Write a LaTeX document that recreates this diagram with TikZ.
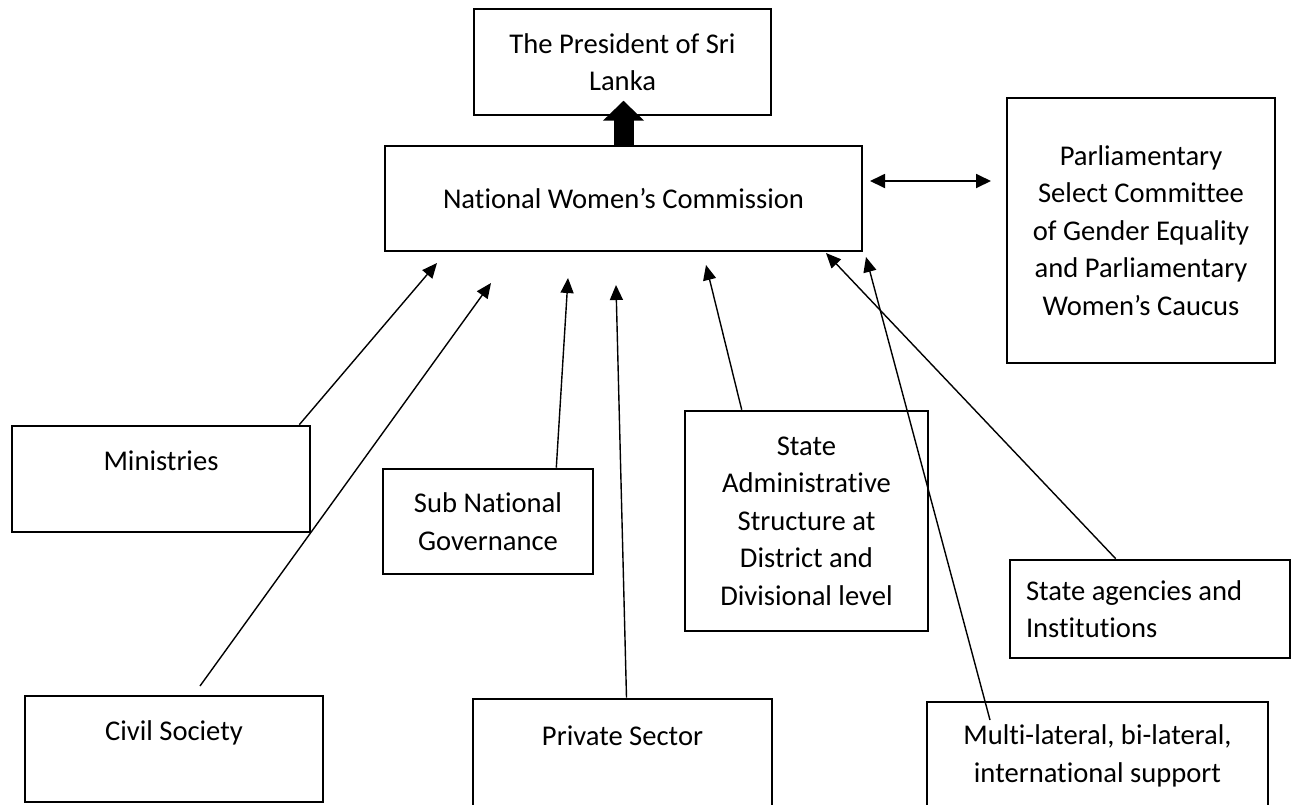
\documentclass[tikz,border=0pt]{standalone}
\usepackage{fontspec}
\setmainfont{Carlito}[Ligatures=NoCommon]
\usetikzlibrary{arrows.meta}

\tikzset{
  caja/.style={draw, line width=1.3pt, inner sep=0pt, align=center,
    font=\fontsize{14.3pt}{18.75pt}\selectfont},
  flecha/.style={-{Triangle[length=7.5pt,width=6.5pt]}, line width=0.7pt},
  dobleflecha/.style={{Triangle[length=7.5pt,width=7pt]}-{Triangle[length=7.5pt,width=7pt]}, line width=0.9pt},
  gruesa/.style={line width=10pt, -{Triangle[length=10pt,width=20pt]}}
}

\begin{document}
\begin{tikzpicture}[x=0.5pt, y=-0.5pt]
    \useasboundingbox (0,0) rectangle (1312,804);
    \clip (0,0) rectangle (1312,804);
    % Cajas de arriba
    \node[caja, minimum width=148.5pt, minimum height=53pt] (pres) at (622.5,62)
        {The President of Sri\\Lanka};
    \node[caja, minimum width=238.5pt, minimum height=52.5pt] (nwc) at (623.5,198.5)
        {National Women’s Commission};
    \node[caja, minimum width=134pt, minimum height=132.5pt] (psc) at (1141,230.5)
        {Parliamentary\\Select Committee\\of Gender Equality\\and Parliamentary\\Women’s Caucus};
    % Cajas del medio
    \node[caja, minimum width=149pt, minimum height=53pt] (min) at (161,479)
        {Ministries\\~};
    \node[caja, minimum width=105pt, minimum height=52.5pt] (sub) at (488,521.5)
        {Sub National\\Governance};
    \node[caja, minimum width=121.5pt, minimum height=110pt] (sta) at (806.5,521)
        {State\\Administrative\\Structure at\\District and\\Divisional level};
    \node[caja, align=flush left, text width=124pt, inner xsep=8pt, minimum height=49pt] (age) at (1150,609)
        {State agencies and\\Institutions};
    % Cajas de abajo
    \node[caja, minimum width=149pt, minimum height=53pt] (civ) at (174,749)
        {Civil Society\\~};
    \node[caja, minimum width=149.5pt, minimum height=55.5pt] (pri) at (622.5,754.5)
        {Private Sector\\~};
    \node[caja, minimum width=170.5pt, minimum height=54pt] (mul) at (1097.5,756)
        {Multi-lateral, bi-lateral,\\international support};
    % Puntas de las flechas
    \coordinate (t1) at (437,263);
    \coordinate (t2) at (491,283);
    \coordinate (t3) at (568,278);
    \coordinate (t4) at (616,285);
    \coordinate (t5) at (706,265);
    \coordinate (t6) at (826,253);
    \coordinate (t7) at (866,257);
    \coordinate (c0) at (200,686);
    \coordinate (m0) at (990,720);
    \coordinate (d1) at (870,181);
    \coordinate (d2) at (991,181);
    % Flechas
    \draw[gruesa] (nwc.north) -- ++(0,-44);
    \draw[dobleflecha] (d1) -- (d2);
    \draw[flecha] ([xshift=-6pt]min.north east) -- (t1);
    \draw[flecha] (c0) -- (t2);
    \draw[flecha] ([xshift=-19pt]sub.north east) -- (t3);
    \draw[flecha] ([xshift=2pt]pri.north) -- (t4);
    \draw[flecha] ([xshift=29pt]sta.north west) -- (t5);
    \draw[flecha] ([xshift=53.5pt]age.north west) -- (t6);
    \draw[flecha] (m0) -- (t7);
\end{tikzpicture}
\end{document}
